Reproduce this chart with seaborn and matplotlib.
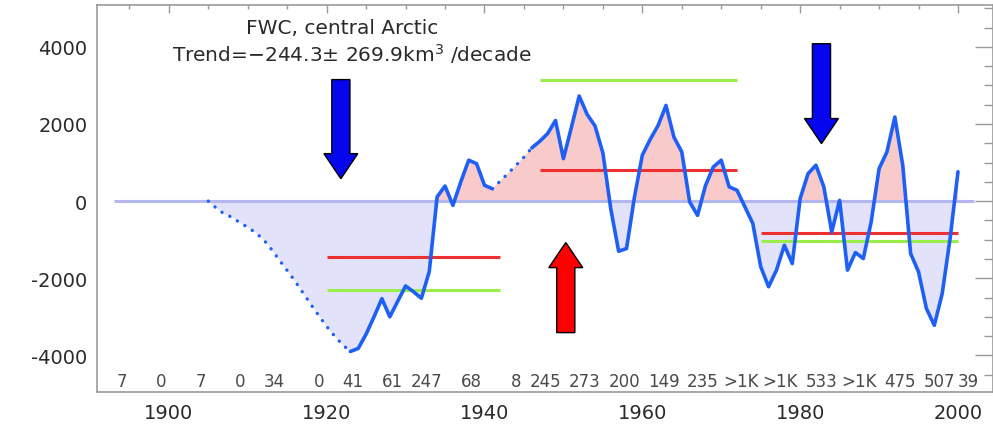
import numpy as np
import pandas as pd
import matplotlib
matplotlib.use("Agg")
import matplotlib.pyplot as plt
import matplotlib.patches as mpatches
from matplotlib.ticker import MultipleLocator, FuncFormatter
import seaborn as sns

# ---- data ---------------------------------------------------------------
years = list(range(1905, 2001))
fwc = [
    # 1905-1922 (interpolated across missing years)
    0, -180, -330, -420, -560, -680, -820, -1000, -1250, -1530,
    -1800, -2080, -2380, -2680, -2970, -3250, -3500, -3720,
    # 1923-1941
    -3900, -3820, -3450, -3000, -2530, -3000, -2600, -2200, -2350, -2520,
    -1830, 110, 390, -110, 500, 1060, 970, 410, 320,
    # 1942-1945 (interpolated)
    520, 720, 930, 1140,
    # 1946-2000
    1380, 1550, 1750, 2090, 1100, 1900, 2725, 2250, 1950, 1250,
    -200, -1300, -1230, 100, 1190, 1600, 1960, 2480, 1660, 1275,
    -20, -370, 400, 885, 1060, 370, 280, -150, -580, -1700,
    -2220, -1790, -1145, -1620, 65, 710, 930, 370, -800, 20,
    -1790, -1335, -1490, -540, 840, 1275, 2180, 930, -1360, -1835,
    -2785, -3220, -2400, -970, 760,
]
solid_spans = [(1923, 1941), (1946, 2000)]
dotted_spans = [(1905, 1923), (1941, 1946)]

# period means (start, end, value)
period_start = [1920, 1947, 1975]
period_end = [1942, 1972, 2000]
mean_red = [-1450, 800, -840]
mean_green = [-2300, 3150, -1030]

# observation counts per 5-year bin (last bin ends with the record, 2003)
bin_ends = [1895, 1900, 1905, 1910, 1915, 1920, 1925, 1930, 1935, 1940,
            1945, 1950, 1955, 1960, 1965, 1970, 1975, 1980, 1985, 1990,
            1995, 2000, 2003]
counts = ["7", "0", "7", "0", "34", "0", "41", "61", "247", "68", "8",
          "245", "273", "200", "149", "235", ">1K", ">1K", "533", ">1K",
          "475", "507", "39"]

# arrows: (x, tail, tip, colour)
arrow_x = [1921.8, 1982.7, 1950.3]
arrow_tail = [3150, 4080, -3410]
arrow_tip = [580, 1490, -1075]
arrow_color = ["#0505ee", "#0505ee", "#ff0000"]

title_1 = "FWC, central Arctic"
title_2 = "Trend=\u2212244.3\u00b1 269.9km$^3$ /decade"

# ---- style --------------------------------------------------------------
sns.set_theme(style="white")
plt.rcParams["font.family"] = ["DejaVu Sans"]
plt.rcParams["mathtext.default"] = "regular"

LINE = "#1e5ff5"
NEG = "#e2e2fa"
POS = "#f9caca"
ZERO = "#b3b6ef"
RED = "#ee3030"
GREEN = "#9bee4a"
AXIS = "#9a9a9a"
TEXT = "#2a2a2a"

fig = plt.figure(figsize=(9.93, 4.27), dpi=100)
ax = fig.add_axes([0.0977, 0.0796, 0.902, 0.906])

yr = np.array(years, dtype=float)
val = np.array(fwc, dtype=float)

# shaded anomaly areas
ax.fill_between(yr, val, 0, where=val >= 0, interpolate=True,
                color=POS, lw=0, zorder=1)
ax.fill_between(yr, val, 0, where=val <= 0, interpolate=True,
                color=NEG, lw=0, zorder=1)
ax.hlines(0, 1893, 2002, color=ZERO, lw=2.2, zorder=2)

# period means
for s, e, r, g in zip(period_start, period_end, mean_red, mean_green):
    ax.hlines(r, s, e, color=RED, lw=2.2, zorder=3)
    ax.hlines(g, s, e, color=GREEN, lw=2.2, zorder=3)


def span_frame(spans):
    rows = []
    for i, (a, b) in enumerate(spans):
        for y, v in zip(years, fwc):
            if a <= y <= b:
                rows.append({"year": y, "fwc": v, "span": i})
    return pd.DataFrame(rows)


sns.lineplot(data=span_frame(solid_spans), x="year", y="fwc", units="span",
             estimator=None, color=LINE, lw=2.6, ax=ax, zorder=5,
             solid_joinstyle="round")
sns.lineplot(data=span_frame(dotted_spans), x="year", y="fwc", units="span",
             estimator=None, color=LINE, lw=2.4, ax=ax, zorder=5,
             linestyle=(0, (0.05, 2.6)), dash_capstyle="round")

# arrows
for x, t, h, c in zip(arrow_x, arrow_tail, arrow_tip, arrow_color):
    ax.add_patch(mpatches.FancyArrow(
        x, t, 0, h - t, width=2.3, head_width=4.3, head_length=650,
        length_includes_head=True, facecolor=c, edgecolor="black",
        lw=1.0, zorder=6))

# annotations
ax.text(1921.9, 4500, title_1, ha="center", va="center", fontsize=14.5,
        color=TEXT, zorder=7)
ax.text(1923.2, 3840, title_2, ha="center", va="center", fontsize=14.5,
        color=TEXT, zorder=7)
for e, c in zip(bin_ends, counts):
    ax.text(e - 0.3, 0.028, c, transform=ax.get_xaxis_transform(),
            ha="right", va="center", fontsize=12, color="#4a4a4a", zorder=7)

# axes
ax.set_xlim(1890.9, 2004.4)
ax.set_ylim(-4950, 5080)
ax.set_xlabel("")
ax.set_ylabel("")
ax.xaxis.set_major_locator(MultipleLocator(20))
ax.xaxis.set_minor_locator(MultipleLocator(5))
ax.yaxis.set_major_locator(MultipleLocator(2000))
ax.yaxis.set_minor_locator(MultipleLocator(500))
ax.tick_params(axis="both", which="both", direction="in", colors=AXIS,
               labelcolor=TEXT, labelsize=14, top=True, right=True)
ax.tick_params(axis="x", which="major", length=6, width=1, pad=8)
ax.tick_params(axis="x", which="minor", length=3, width=1)
ax.tick_params(axis="y", which="major", length=13, width=1, pad=7)
ax.tick_params(axis="y", which="minor", length=6.5, width=1)
ax.yaxis.set_major_formatter(FuncFormatter(lambda v, p: f"{int(v)}"))
for sp in ax.spines.values():
    sp.set_color(AXIS)
    sp.set_linewidth(1.2)
ax.set_facecolor("white")
fig.patch.set_facecolor("white")

fig.savefig("out.png", dpi=100)
